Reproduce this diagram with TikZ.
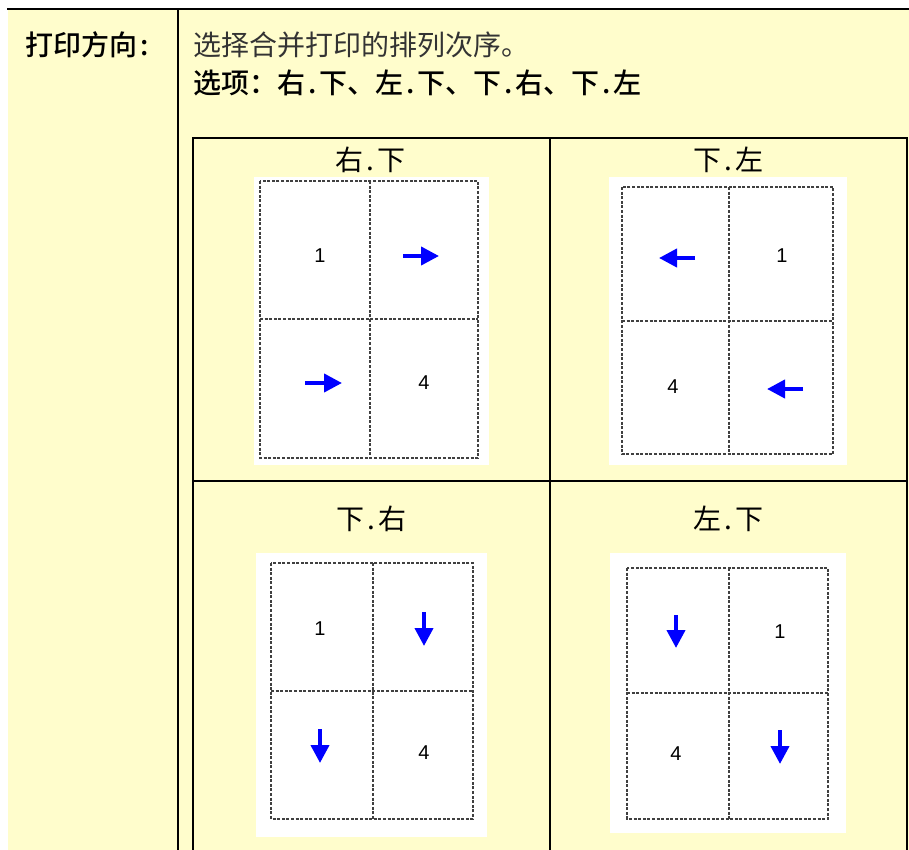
\documentclass[tikz,border=0pt]{standalone}
\usepackage{fontspec}
\newfontfamily\cjk[BoldFont={Noto Sans CJK SC Medium}]{Noto Sans CJK SC}
\newfontfamily\numfont{Liberation Sans}
\usetikzlibrary{arrows.meta}
\definecolor{notebg}{RGB}{255,253,204}
\newcommand\hdot{\makebox[0.5em]{.}}
\newcommand\hcolon{\makebox[0.5em]{:}}
\tikzset{
  rule/.style={line width=2pt, line cap=rect},
  sheet/.style={fill=white, draw=none},
  fold/.style={draw=black!75, dash pattern=on 3pt off 1.6pt, line width=1.1pt},
  parrow/.style={-{Triangle[length=18pt,width=18pt]}, line width=4pt, draw=blue},
  pnum/.style={inner sep=0pt, font=\numfont\fontsize{20}{22}\selectfont},
  ttl/.style={inner sep=0pt, font=\cjk\fontsize{28}{30}\selectfont}
}

\begin{document}
\begin{tikzpicture}[x=1pt, y=-1pt]
    \useasboundingbox (0,0) rectangle (909,850);
    \fill[notebg] (8,9) rectangle (909,850);
    % outer rules
    \draw[rule] (8,9) -- (909,9);
    \draw[rule] (178,9) -- (178,850);
    \node[inner sep=0pt, anchor=west, font=\cjk\bfseries\fontsize{28}{30}\selectfont] (lbl) at (25,45) {打印方向\hcolon};
    \node[inner sep=0pt, anchor=west, text=black!80, font=\cjk\fontsize{28}{30}\selectfont] (desc) at (193,45) {选择合并打印的排列次序。};
    \node[inner sep=0pt, anchor=west, font=\cjk\bfseries\fontsize{28}{30}\selectfont] (opts) at (193,83) {选项：右\hdot 下、左\hdot 下、下\hdot 右、下\hdot 左};
    % inner grid
    \draw[rule] (193,850) -- (193,138) -- (907,138) -- (907,850);
    \draw[rule] (550,138) -- (550,850);
    \draw[rule] (193,481) -- (907,481);

    % right then down
    \node[ttl] (tA) at (370,160) {右\hdot 下};
    \fill[sheet] (254,177) rectangle (489,465);
    \draw[fold] (260,181) rectangle (478,458) (370,181) -- (370,458) (260,319) -- (478,319);
    \node[pnum] (a1) at (320,256) {1};
    \node[pnum] (a4) at (424,383) {4};
    \draw[parrow] (403,256) -- (439,256);
    \draw[parrow] (305,383) -- (342,383);

    % down then left
    \node[ttl] (tB) at (728,160) {下\hdot 左};
    \fill[sheet] (609,177) rectangle (847,465);
    \draw[fold] (622,187) rectangle (833,454) (729,187) -- (729,454) (622,321) -- (833,321);
    \node[pnum] (b1) at (782,256) {1};
    \node[pnum] (b4) at (673,387) {4};
    \draw[parrow] (695,258) -- (659,258);
    \draw[parrow] (803,389) -- (767,389);

    % down then right
    \node[ttl] (tC) at (371,519) {下\hdot 右};
    \fill[sheet] (256,553) rectangle (487,837);
    \draw[fold] (271,563) rectangle (473,819) (373,563) -- (373,819) (271,691) -- (473,691);
    \node[pnum] (c1) at (320,629) {1};
    \node[pnum] (c4) at (424,753) {4};
    \draw[parrow] (424,612) -- (424,646);
    \draw[parrow] (320,729) -- (320,763);

    % left then down
    \node[ttl] (tD) at (728,519) {左\hdot 下};
    \fill[sheet] (610,553) rectangle (846,833);
    \draw[fold] (627,568) rectangle (828,819) (729,568) -- (729,819) (627,693) -- (828,693);
    \node[pnum] (d1) at (780,632) {1};
    \node[pnum] (d4) at (676,754) {4};
    \draw[parrow] (676,615) -- (676,648);
    \draw[parrow] (780,730) -- (780,764);
\end{tikzpicture}
\end{document}
